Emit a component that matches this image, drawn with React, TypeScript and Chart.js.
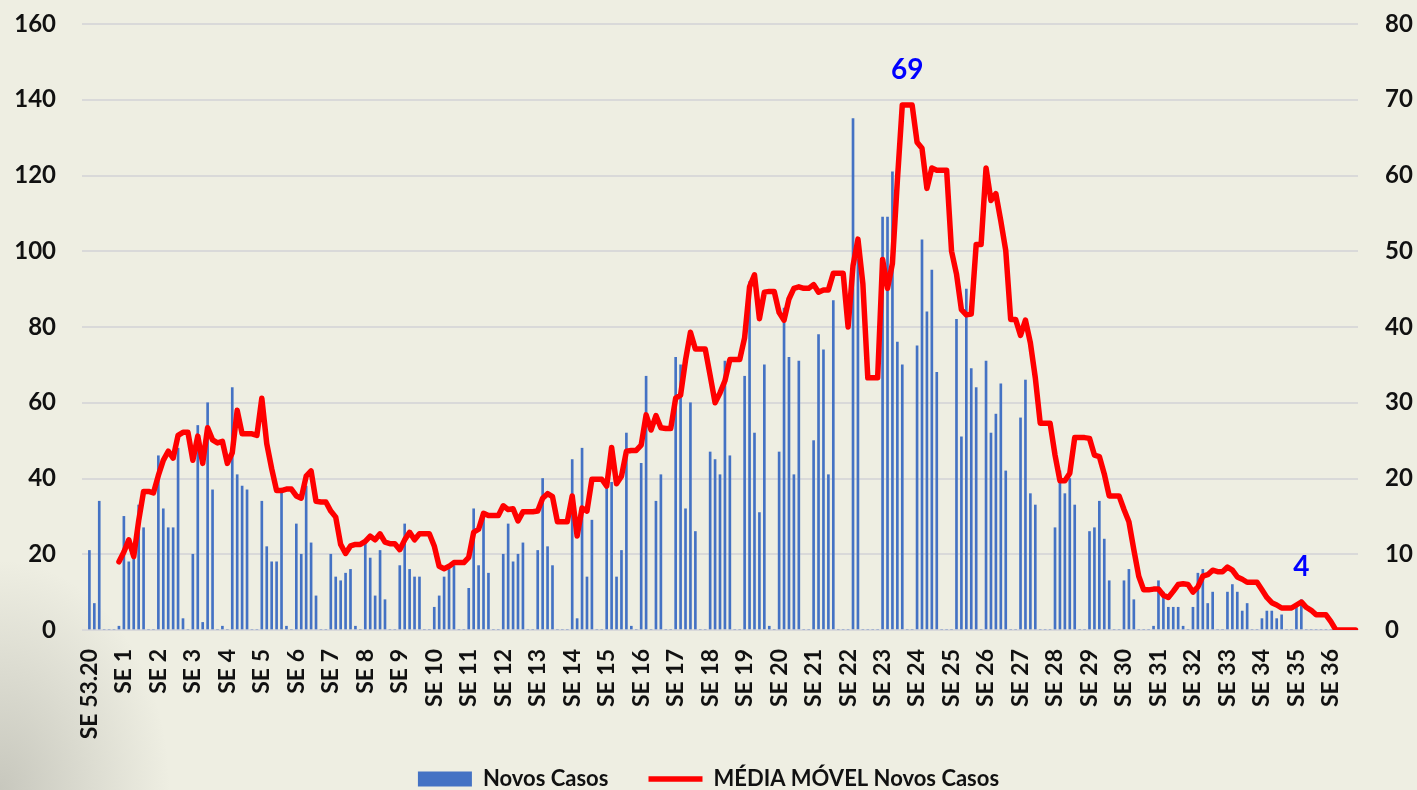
import React, { useEffect, useRef } from 'react';
import { Chart, registerables } from 'chart.js';

Chart.register(...registerables);

// Week labels (one every 7 days)
const weekLabels = [
  'SE 53.20', 'SE 1', 'SE 2', 'SE 3', 'SE 4', 'SE 5', 'SE 6', 'SE 7', 'SE 8', 'SE 9',
  'SE 10', 'SE 11', 'SE 12', 'SE 13', 'SE 14', 'SE 15', 'SE 16', 'SE 17', 'SE 18', 'SE 19',
  'SE 20', 'SE 21', 'SE 22', 'SE 23', 'SE 24', 'SE 25', 'SE 26', 'SE 27', 'SE 28', 'SE 29',
  'SE 30', 'SE 31', 'SE 32', 'SE 33', 'SE 34', 'SE 35', 'SE 36',
];

// Daily new cases (left axis), one row per week
const dailyCases = [
  21, 7, 34, 0, 0, 0, 1,
  30, 18, 19, 33, 27, 0, 0,
  46, 32, 27, 27, 48, 3, 0,
  20, 54, 2, 60, 37, 0, 1,
  0, 64, 41, 38, 37, 0, 0,
  34, 22, 18, 18, 37, 1, 0,
  28, 20, 38, 23, 9, 0, 0,
  20, 14, 13, 15, 16, 1, 0,
  23, 19, 9, 21, 8, 0, 0,
  17, 28, 16, 14, 14, 0, 0,
  6, 9, 14, 16, 17, 0, 0,
  11, 32, 17, 31, 15, 0, 0,
  20, 28, 18, 20, 23, 0, 0,
  21, 40, 22, 17, 0, 0, 0,
  45, 3, 48, 14, 29, 0, 0,
  39, 39, 14, 21, 52, 1, 0,
  44, 67, 0, 34, 41, 0, 0,
  72, 70, 32, 60, 26, 0, 0,
  47, 45, 41, 71, 46, 0, 0,
  67, 92, 52, 31, 70, 1, 0,
  47, 85, 72, 41, 71, 0, 0,
  50, 78, 74, 41, 87, 0, 0,
  0, 135, 98, 0, 0, 0, 0,
  109, 109, 121, 76, 70, 0, 0,
  75, 103, 84, 95, 68, 0, 0,
  0, 82, 51, 90, 69, 64, 0,
  71, 52, 57, 65, 42, 0, 0,
  56, 66, 36, 33, 0, 0, 0,
  27, 42, 36, 40, 33, 0, 0,
  26, 27, 34, 24, 13, 0, 0,
  13, 16, 8, 0, 0, 0, 1,
  13, 10, 6, 6, 6, 1, 0,
  6, 15, 16, 7, 10, 0, 0,
  10, 12, 10, 5, 7, 0, 0,
  3, 5, 5, 3, 4, 0, 0,
  6, 8, 0, 0, 0, 0, 0,
  0, 0, 0, 0, 0, 0,
];

// Moving average of new cases (right axis), one row per week
const movingAverage = [
  null, null, null, null, null, null, 9.0,
  10.3, 11.9, 9.7, 14.4, 18.3, 18.3, 18.1,
  20.4, 22.4, 23.6, 22.7, 25.7, 26.1, 26.1,
  22.4, 25.6, 22.0, 26.7, 25.1, 24.7, 24.9,
  22.0, 23.4, 29.0, 25.9, 25.9, 25.9, 25.7,
  30.6, 24.6, 21.3, 18.4, 18.4, 18.6, 18.6,
  17.7, 17.4, 20.3, 21.0, 17.0, 16.9, 16.9,
  15.7, 14.9, 11.3, 10.1, 11.1, 11.3, 11.3,
  11.7, 12.4, 11.9, 12.7, 11.6, 11.4, 11.4,
  10.6, 11.9, 12.9, 11.9, 12.7, 12.7, 12.7,
  11.1, 8.4, 8.1, 8.4, 8.9, 8.9, 8.9,
  9.6, 12.9, 13.3, 15.4, 15.1, 15.1, 15.1,
  16.4, 15.9, 16.0, 14.4, 15.6, 15.6, 15.6,
  15.7, 17.4, 18.0, 17.6, 14.3, 14.3, 14.3,
  17.7, 12.4, 16.1, 15.7, 19.9, 19.9, 19.9,
  19.0, 24.1, 19.3, 20.3, 23.6, 23.7, 23.7,
  24.4, 28.4, 26.4, 28.3, 26.7, 26.6, 26.6,
  30.6, 31.0, 35.6, 39.3, 37.1, 37.1, 37.1,
  33.6, 30.0, 31.3, 32.9, 35.7, 35.7, 35.7,
  38.6, 45.3, 46.9, 41.1, 44.6, 44.7, 44.7,
  41.9, 40.9, 43.7, 45.1, 45.3, 45.1, 45.1,
  45.6, 44.6, 44.9, 44.9, 47.1, 47.1, 47.1,
  40.0, 48.1, 51.6, 45.7, 33.3, 33.3, 33.3,
  48.9, 45.1, 48.4, 59.3, 69.3, 69.3, 69.3,
  64.4, 63.6, 58.3, 61.0, 60.7, 60.7, 60.7,
  50.0, 47.0, 42.3, 41.6, 41.7, 50.9, 50.9,
  61.0, 56.7, 57.6, 54.0, 50.1, 41.0, 41.0,
  38.9, 40.9, 37.9, 33.3, 27.3, 27.3, 27.3,
  23.1, 19.7, 19.7, 20.7, 25.4, 25.4, 25.4,
  25.3, 23.1, 22.9, 20.6, 17.7, 17.7, 17.7,
  15.9, 14.3, 10.6, 7.1, 5.3, 5.3, 5.4,
  5.4, 4.6, 4.3, 5.1, 6.0, 6.1, 6.0,
  5.0, 5.7, 7.1, 7.3, 7.9, 7.7, 7.7,
  8.3, 7.9, 7.0, 6.7, 6.3, 6.3, 6.3,
  5.3, 4.3, 3.6, 3.3, 2.9, 2.9, 2.9,
  3.3, 3.7, 3.0, 2.6, 2.0, 2.0, 2.0,
  1.1, 0, 0, 0, 0, 0,
];

// Data callouts on the moving-average line (day index, text)
const calloutDays = [166, 246];
const calloutText = ['69', '4'];

const leftTicksMax = 160;
const rightTicksMax = 80;

export default function App() {
  const canvasRef = useRef<HTMLCanvasElement | null>(null);

  useEffect(() => {
    document.body.style.margin = '0';
    const canvas = canvasRef.current;
    if (!canvas) return;

    // one leading empty slot, then one category per day
    const labels: string[] = [''];
    dailyCases.forEach((_, i) => labels.push(i % 7 === 0 ? weekLabels[i / 7] : ''));
    const barData: (number | null)[] = [null, ...dailyCases];
    const lineData: (number | null)[] = [null, ...movingAverage];

    const calloutPlugin = {
      id: 'callouts',
      afterDatasetsDraw(chart: any) {
        const meta = chart.getDatasetMeta(1);
        const ctx = chart.ctx;
        ctx.save();
        ctx.font = 'bold 28px Lato';
        ctx.fillStyle = '#0000FF';
        ctx.textAlign = 'center';
        ctx.textBaseline = 'alphabetic';
        calloutDays.forEach((d, k) => {
          const el = meta.data[d + 1];
          if (el) ctx.fillText(calloutText[k], el.x, el.y - 26);
        });
        ctx.restore();
      },
    };

    Chart.defaults.font.family = 'Lato, sans-serif';
    Chart.defaults.color = '#111111';

    const legendGap = '      ';

    const chart = new Chart(canvas, {
      type: 'bar',
      data: {
        labels,
        datasets: [
          {
            type: 'bar',
            label: 'Novos Casos',
            data: barData,
            backgroundColor: '#4472C4',
            borderWidth: 0,
            barThickness: 2,
            yAxisID: 'y',
            order: 2,
            pointStyle: 'rect',
          } as any,
          {
            type: 'line',
            label: 'MÉDIA MÓVEL Novos Casos',
            data: lineData,
            borderColor: '#FF0000',
            backgroundColor: '#FF0000',
            borderWidth: 5.5,
            pointRadius: 0,
            tension: 0,
            borderJoinStyle: 'round',
            borderCapStyle: 'round',
            yAxisID: 'y1',
            order: 1,
            pointStyle: 'line',
          } as any,
        ],
      },
      options: {
        responsive: false,
        animation: false,
        layout: { padding: { top: 24, bottom: -10, left: 0, right: 0 } },
        plugins: {
          tooltip: { enabled: false },
          legend: {
            position: 'bottom',
            labels: {
              usePointStyle: true,
              pointStyleWidth: 54,
              boxHeight: 15,
              padding: 8,
              color: '#111111',
              font: { size: 22, weight: 'bold' },
              generateLabels: (ch: any) => {
                const items = Chart.defaults.plugins.legend.labels.generateLabels(ch);
                items.sort((a: any, b: any) => a.datasetIndex - b.datasetIndex);
                return items.map((it: any, i: number) =>
                  i < items.length - 1 ? { ...it, text: it.text + legendGap } : it
                );
              },
            },
          },
        },
        scales: {
          x: {
            grid: { display: false },
            border: { display: false },
            ticks: {
              autoSkip: false,
              minRotation: 90,
              maxRotation: 90,
              padding: 11,
              color: '#111111',
              font: { size: 23, weight: 'bold' },
            },
            afterFit: (scale: any) => {
              scale.height = 130;
            },
          },
          y: {
            position: 'left',
            min: 0,
            max: leftTicksMax,
            ticks: {
              stepSize: 20,
              padding: 2,
              color: '#111111',
              font: { size: 24, weight: 'bold' },
            },
            grid: {
              color: '#D9D9D9',
              lineWidth: 2,
              drawTicks: true,
              tickLength: 24,
              tickColor: 'rgba(0,0,0,0)',
            },
            border: { display: false },
            afterFit: (scale: any) => {
              scale.width = 82;
            },
          },
          y1: {
            position: 'right',
            min: 0,
            max: rightTicksMax,
            ticks: {
              stepSize: 10,
              padding: 2,
              color: '#111111',
              font: { size: 24, weight: 'bold' },
            },
            grid: {
              drawOnChartArea: false,
              drawTicks: true,
              tickLength: 25,
              tickColor: 'rgba(0,0,0,0)',
            },
            border: { display: false },
            afterFit: (scale: any) => {
              scale.width = 59;
            },
          },
        },
      },
      plugins: [calloutPlugin],
    });

    return () => chart.destroy();
  }, []);

  return (
    <div
      style={{
        width: 1417,
        height: 790,
        position: 'relative',
        background:
          'radial-gradient(ellipse 170px 230px at 0% 100%, rgba(110,110,105,0.30), rgba(110,110,105,0) 100%), #EEEEE2',
      }}
    >
      <canvas ref={canvasRef} width={1417} height={790} style={{ display: 'block' }} />
    </div>
  );
}
